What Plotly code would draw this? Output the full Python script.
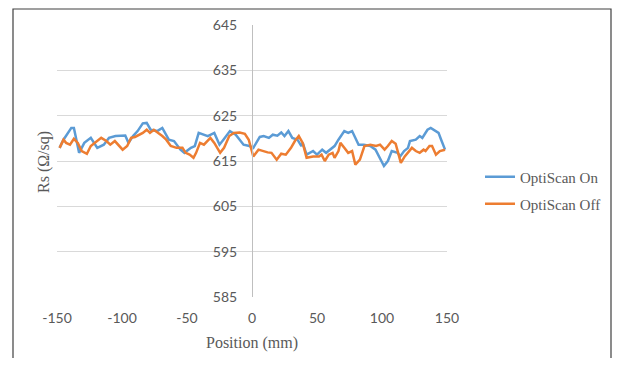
import plotly.graph_objects as go

# ---- data ----
on_x = [-148, -145, -139, -137, -133, -129, -124, -119, -114, -110, -105, -97.5, -95, -91.5,
        -88, -84, -81, -78, -73, -69, -64, -60, -55, -52, -47, -44, -41, -37, -34, -29,
        -25, -22, -17, -12.5, -9.5, -6.5, -2, 1, 6, 9, 13, 16, 19.5, 22.5, 25, 28, 31,
        35, 38, 39, 42, 47, 50, 54, 57, 63.5, 66.5, 71, 74, 77, 82, 86, 91, 95, 101.5,
        104.5, 107.5, 112, 114, 117, 120, 121.5, 126, 129, 131, 135, 137.5, 141, 143.5,
        145.5, 148.5]
on_y = [617.9, 619.7, 622.3, 622.3, 616.8, 619.0, 620.1, 617.9, 618.6, 620.1, 620.5, 620.6, 619.0, 620.5,
        621.6, 623.3, 623.4, 621.9, 621.6, 622.3, 619.7, 619.4, 617.5, 616.8, 617.9, 618.3, 621.2, 620.8, 620.5, 621.2,
        618.6, 619.7, 621.6, 620.8, 619.7, 618.6, 618.3, 617.9, 620.3, 620.5, 620.1, 620.8, 620.6, 621.3, 620.5, 621.6, 620.1,
        619.7, 618.3, 619.0, 616.4, 617.2, 616.4, 617.5, 616.8, 618.3, 619.7, 621.6, 621.2, 621.6, 618.6, 618.6, 618.3, 617.5, 613.9,
        615.0, 617.2, 616.8, 616.0, 617.2, 617.9, 619.4, 619.7, 620.5, 620.1, 621.9, 622.3, 621.6, 621.2,
        619.7, 617.5]

off_x = [-148, -145, -143, -140, -137, -134, -131, -127, -124, -121, -116, -112, -109, -105.5,
         -102.5, -99.5, -96, -93, -90, -87, -84, -81, -78.5, -75.5, -72, -69, -66, -62.5, -58,
         -53.5, -51, -48, -45, -43, -40, -37, -32, -29, -24.5, -21.5, -17.5, -14, -9.5, -5.5,
         -2.5, 1, 5, 8, 12, 15, 19, 22.5, 26, 30, 33, 36, 39, 42, 47, 51.5, 53.5, 56, 59, 62,
         63.5, 66.5, 68, 71, 74, 77, 79.5, 83, 86.5, 91, 95.5, 98.5, 102, 104.5, 107.5, 110.5,
         113.5, 114.5, 117.5, 120, 123, 126, 129, 132, 133.5, 136.5, 138.5, 141.5, 144.5, 148.5]
off_y = [617.9, 619.7, 619.0, 618.6, 619.9, 619.0, 617.2, 616.6, 618.3, 619.0, 620.1, 619.4, 618.6, 619.4,
         618.4, 617.5, 618.3, 620.1, 620.3, 620.8, 621.2, 621.9, 621.2, 621.9, 621.2, 620.5, 619.7, 618.3, 617.9,
         617.9, 616.8, 616.4, 615.7, 616.8, 619.0, 618.6, 620.1, 619.0, 616.8, 617.9, 620.5, 621.2, 621.3, 621.0,
         619.7, 616.0, 617.5, 617.2, 616.9, 616.8, 615.3, 616.6, 616.4, 617.9, 619.4, 620.5, 619.0, 615.7, 616.0, 616.0, 616.4, 615.0, 616.4, 616.8,
         615.7, 617.2, 619.0, 617.9, 616.8, 617.2, 614.2, 615.3, 618.3, 618.6, 618.3, 618.6, 617.5, 618.3, 619.4, 618.8,
         616.0, 614.6, 616.0, 616.8, 617.9, 617.2, 616.8, 617.5, 617.2, 618.3, 618.3, 616.4, 617.2, 617.5]

assert len(on_x) == len(on_y), (len(on_x), len(on_y))
assert len(off_x) == len(off_y), (len(off_x), len(off_y))

x_ticks = [-150, -100, -50, 0, 50, 100, 150]
x_tick_labels = ["-150", "-100", "-50", "0", "50", "100", "150"]
y_ticks = [585, 595, 605, 615, 625, 635, 645]

series_names = ["OptiScan On", "OptiScan Off"]
colors = ["#5B9BD5", "#ED7D31"]

GRAY = "#595959"
SANS = "Lato"
SERIF = "Liberation Serif"

# page has an 8px body margin on every side: keep the page within the window
OFF = 8
FW, FH = 620 - 2 * OFF, 366 - 2 * OFF

fig = go.Figure()
fig.add_trace(go.Scatter(x=on_x, y=on_y, mode="lines", name=series_names[0],
                         line=dict(color=colors[0], width=2.5), legend="legend"))
fig.add_trace(go.Scatter(x=off_x, y=off_y, mode="lines", name=series_names[1],
                         line=dict(color=colors[1], width=2.5), legend="legend2"))

# plot area in window pixels: x 57..447, y 25..297
L, R, T, B = 57, 447, 25, 297
W, H = R - L, B - T

def px_to_paper_x(px):
    return (px - L) / W

def px_to_paper_y(py):
    return (B - py) / H

legend_common = dict(font=dict(family=SERIF, size=15, color=GRAY), bgcolor="rgba(0,0,0,0)",
                     xanchor="left", yanchor="middle", itemwidth=30)

fig.update_layout(
    width=FW, height=FH,
    margin=dict(l=L - OFF, r=(OFF + FW) - R, t=T - OFF, b=(OFF + FH) - B, pad=0, autoexpand=False),
    paper_bgcolor="white", plot_bgcolor="white",
    showlegend=True,
    legend=dict(x=px_to_paper_x(480), y=px_to_paper_y(177), **legend_common),
    legend2=dict(x=px_to_paper_x(480), y=px_to_paper_y(204), **legend_common),
    xaxis=dict(range=[-150, 150], tickvals=x_ticks, ticktext=x_tick_labels, showgrid=False, zeroline=False,
               showline=False, ticks="", tickfont=dict(family=SANS, size=14, color=GRAY),
               ticklabelstandoff=11, automargin=False,
               title=dict(text="Position (mm)", font=dict(family=SERIF, size=16, color=GRAY), standoff=11)),
    yaxis=dict(range=[585, 645], tickvals=y_ticks, showgrid=True, gridcolor="#D9D9D9", gridwidth=1,
               zeroline=False, showline=True, linecolor="#BFBFBF", linewidth=1, automargin=False,
               anchor="free", position=0.5, ticks="", ticklabelstandoff=12,
               tickfont=dict(family=SANS, size=14, color=GRAY)),
    shapes=[dict(type="rect", xref="paper", yref="paper",
                 x0=px_to_paper_x(13), x1=px_to_paper_x(611),
                 y0=px_to_paper_y(380), y1=px_to_paper_y(9),
                 line=dict(color="#404040", width=1.2), fillcolor="rgba(0,0,0,0)", layer="below")],
    annotations=[dict(text="Rs (Ω/sq)", textangle=-90, xref="paper", yref="paper",
                      x=px_to_paper_x(44), y=px_to_paper_y(162), showarrow=False,
                      xanchor="center", yanchor="middle",
                      font=dict(family=SERIF, size=16, color=GRAY))],
)

fig.write_html("out.html")
